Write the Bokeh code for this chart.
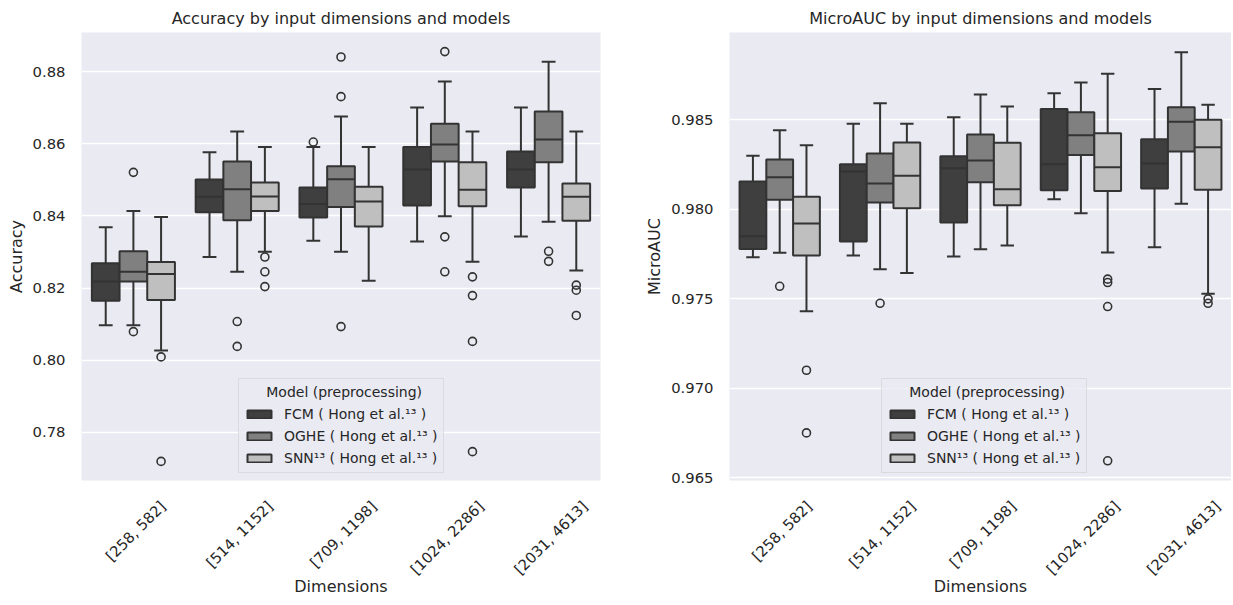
import math
from bokeh.plotting import figure
from bokeh.layouts import row
from bokeh.models import ColumnDataSource, Range1d, FixedTicker, Legend, LegendItem, NumeralTickFormatter
from bokeh.embed import file_html
from bokeh.resources import INLINE

# ---------------- data ----------------
categories = ["[258, 582]", "[514, 1152]", "[709, 1198]", "[1024, 2286]", "[2031, 4613]"]
models = ["FCM ( Hong et al.\u00b9\u00b3 )", "OGHE ( Hong et al.\u00b9\u00b3 )", "SNN\u00b9\u00b3 ( Hong et al.\u00b9\u00b3 )"]
legend_title = "Model (preprocessing)"
colors = ["#3f3f3f", "#808080", "#bfbfbf"]

# Accuracy box statistics, rows = categories, columns = models (FCM, OGHE, SNN)
acc_q1 = [[0.8165, 0.8218, 0.8167], [0.8410, 0.8388, 0.8414], [0.8396, 0.8425, 0.8371],
          [0.8429, 0.8551, 0.8427], [0.8479, 0.8549, 0.8387]]
acc_med = [[0.8218, 0.8245, 0.8239], [0.8453, 0.8474, 0.8454], [0.8433, 0.8502, 0.8440],
           [0.8529, 0.8598, 0.8473], [0.8529, 0.8612, 0.8453]]
acc_q3 = [[0.8269, 0.8302, 0.8272], [0.8501, 0.8551, 0.8493], [0.8479, 0.8538, 0.8481],
          [0.8591, 0.8656, 0.8549], [0.8579, 0.8690, 0.8490]]
acc_lo = [[0.8097, 0.8097, 0.8027], [0.8286, 0.8245, 0.8301], [0.8331, 0.8301, 0.8220],
          [0.8329, 0.8399, 0.8273], [0.8343, 0.8384, 0.8249]]
acc_hi = [[0.8369, 0.8414, 0.8397], [0.8577, 0.8634, 0.8591], [0.8591, 0.8676, 0.8591],
          [0.8701, 0.8773, 0.8634], [0.8701, 0.8828, 0.8634]]
acc_out_cat = [0, 0, 0, 0, 1, 1, 1, 1, 1, 2, 2, 2, 2, 3, 3, 3, 3, 3, 3, 3, 4, 4, 4, 4, 4]
acc_out_model = [1, 1, 2, 2, 1, 1, 2, 2, 2, 0, 1, 1, 1, 1, 1, 1, 2, 2, 2, 2, 1, 1, 2, 2, 2]
acc_out_val = [0.8521, 0.8079, 0.8009, 0.7719, 0.8107, 0.8038, 0.8286, 0.8245, 0.8204,
               0.8605, 0.8841, 0.8731, 0.8093, 0.8856, 0.8342, 0.8245, 0.8231, 0.8179,
               0.8052, 0.7746, 0.8302, 0.8274, 0.8208, 0.8194, 0.8124]

# MicroAUC box statistics
auc_q1 = [[0.97779, 0.98053, 0.97742], [0.97820, 0.98038, 0.98006], [0.97926, 0.98151, 0.98023],
          [0.98107, 0.98304, 0.98103], [0.98116, 0.98323, 0.98109]]
auc_med = [[0.97850, 0.98179, 0.97921], [0.98211, 0.98144, 0.98187], [0.98230, 0.98273, 0.98112],
           [0.98252, 0.98414, 0.98235], [0.98256, 0.98489, 0.98347]]
auc_q3 = [[0.98155, 0.98278, 0.98071], [0.98252, 0.98312, 0.98373], [0.98297, 0.98418, 0.98372],
          [0.98561, 0.98542, 0.98425], [0.98392, 0.98570, 0.98500]]
auc_lo = [[0.97732, 0.97757, 0.97431], [0.97742, 0.97665, 0.97645], [0.97736, 0.97777, 0.97798],
          [0.98056, 0.97978, 0.97759], [0.97788, 0.98031, 0.97528]]
auc_hi = [[0.98299, 0.98442, 0.98358], [0.98478, 0.98593, 0.98478], [0.98515, 0.98641, 0.98574],
          [0.98649, 0.98708, 0.98757], [0.98673, 0.98878, 0.98585]]
auc_out_cat = [0, 0, 0, 1, 3, 3, 3, 3, 4, 4]
auc_out_model = [1, 2, 2, 1, 2, 2, 2, 2, 2, 2]
auc_out_val = [0.97570, 0.97101, 0.96751, 0.97475, 0.97610, 0.97591, 0.97457, 0.96595,
               0.97500, 0.97475]

# ---------------- style ----------------
FONT = "DejaVu Sans"
TXT = "#262626"
EDGE = "#333333"
BG = "#EAEAF2"
BOXW = 0.8 / 3
TICK_FS = 14.8
FIG_H = 604


def label_width(s, fs=TICK_FS):
    w = 0.0
    for ch in s:
        if ch.isdigit():
            w += 0.636
        elif ch in "[]":
            w += 0.39
        else:
            w += 0.318
    return w * fs


def make_panel(title, ylabel, q1, med, q3, lo, hi, oc, om, ov, yr, yticks, yfmt,
               width, border_left, border_right, legend_x):
    p = figure(width=width, height=FIG_H, output_backend="svg", toolbar_location=None,
               x_range=Range1d(-0.5, 4.5), y_range=Range1d(*yr),
               min_border_left=border_left, min_border_right=border_right,
               min_border_top=32, min_border_bottom=124)
    p.background_fill_color = BG
    p.border_fill_color = "white"
    p.outline_line_color = None
    p.title.text = title
    p.title.align = "center"
    p.title.text_font = FONT
    p.title.text_font_size = "16px"
    p.title.text_font_style = "normal"
    p.title.text_color = TXT
    p.title.standoff = 10

    px_per_unit = (width - border_left - border_right) / 5.0
    ticks = []
    overrides = {}
    for i, c in enumerate(categories):
        shift = (label_width(c) / 2 * math.cos(math.pi / 4) + 2) / px_per_unit
        t = round(i + shift, 6)
        ticks.append(t)
        overrides[t] = c
    p.xaxis.ticker = FixedTicker(ticks=ticks)
    p.xaxis.major_label_overrides = overrides
    p.xaxis.major_label_orientation = math.pi / 4
    p.yaxis.ticker = FixedTicker(ticks=yticks)
    p.yaxis.formatter = NumeralTickFormatter(format=yfmt)

    for ax in (p.xaxis[0], p.yaxis[0]):
        ax.axis_line_color = None
        ax.major_tick_line_color = None
        ax.minor_tick_line_color = None
        ax.major_tick_out = 0
        ax.major_tick_in = 0
        ax.minor_tick_out = 0
        ax.minor_tick_in = 0
        ax.major_label_text_font = FONT
        ax.major_label_text_font_size = f"{TICK_FS}px"
        ax.major_label_text_color = TXT
        ax.axis_label_text_font = FONT
        ax.axis_label_text_font_size = "16px"
        ax.axis_label_text_font_style = "normal"
        ax.axis_label_text_color = TXT
    p.xaxis.major_label_standoff = 23
    p.xaxis.axis_label_standoff = -10
    p.yaxis.major_label_standoff = 16
    p.yaxis.axis_label_standoff = 4
    p.xaxis.axis_label = "Dimensions"
    p.yaxis.axis_label = ylabel

    p.xgrid.visible = False
    p.ygrid.grid_line_color = "white"
    p.ygrid.grid_line_width = 1.3

    items = []
    for j in range(3):
        xs = [i + (j - 1) * BOXW for i in range(5)]
        src = ColumnDataSource(dict(
            x=xs,
            q1=[q1[i][j] for i in range(5)], med=[med[i][j] for i in range(5)],
            q3=[q3[i][j] for i in range(5)], lo=[lo[i][j] for i in range(5)],
            hi=[hi[i][j] for i in range(5)],
            xl=[x - BOXW / 2 for x in xs], xr=[x + BOXW / 2 for x in xs],
            cl=[x - BOXW / 4 for x in xs], cr=[x + BOXW / 4 for x in xs],
        ))
        p.segment("x", "q3", "x", "hi", source=src, line_color=EDGE, line_width=2)
        p.segment("x", "q1", "x", "lo", source=src, line_color=EDGE, line_width=2)
        p.segment("cl", "hi", "cr", "hi", source=src, line_color=EDGE, line_width=2)
        p.segment("cl", "lo", "cr", "lo", source=src, line_color=EDGE, line_width=2)
        r = p.vbar(x="x", width=BOXW, top="q3", bottom="q1", source=src,
                   fill_color=colors[j], line_color=EDGE, line_width=2)
        p.segment("xl", "med", "xr", "med", source=src, line_color=EDGE, line_width=2)
        items.append(LegendItem(label=models[j], renderers=[r]))

    osrc = ColumnDataSource(dict(
        x=[c + (m - 1) * BOXW for c, m in zip(oc, om)], y=ov))
    p.scatter("x", "y", source=osrc, marker="circle", size=8, fill_color=None,
              line_color=EDGE, line_width=1.6)

    leg = Legend(items=items, location=(legend_x, 7))
    # non-breaking spaces to centre the title above the entries
    leg.title = "\u00a0" * 5 + legend_title
    leg.title_text_font = FONT
    leg.title_text_font_size = "14px"
    leg.title_text_font_style = "normal"
    leg.title_text_color = TXT
    leg.title_standoff = 4
    leg.label_text_font = FONT
    leg.label_text_font_size = "14px"
    leg.label_text_color = TXT
    leg.glyph_width = 30
    leg.glyph_height = 10
    leg.label_height = 19
    leg.label_standoff = 10
    leg.spacing = 3
    leg.padding = 5
    leg.margin = 0
    leg.background_fill_color = BG
    leg.background_fill_alpha = 0.8
    leg.border_line_color = "#cccccc"
    leg.border_line_width = 1.3
    p.add_layout(leg, "center")
    return p


p1 = make_panel("Accuracy by input dimensions and models", "Accuracy",
                acc_q1, acc_med, acc_q3, acc_lo, acc_hi, acc_out_cat, acc_out_model, acc_out_val,
                (0.7666, 0.8909), [0.78, 0.80, 0.82, 0.84, 0.86, 0.88], "0.00",
                612, 81, 12, 157)
p2 = make_panel("MicroAUC by input dimensions and models", "MicroAUC",
                auc_q1, auc_med, auc_q3, auc_lo, auc_hi, auc_out_cat, auc_out_model, auc_out_val,
                (0.96485, 0.98988), [0.965, 0.970, 0.975, 0.980, 0.985], "0.000",
                619, 117, 0, 152)

layout = row(p1, p2)
open("out.html", "w").write(file_html(layout, INLINE))
